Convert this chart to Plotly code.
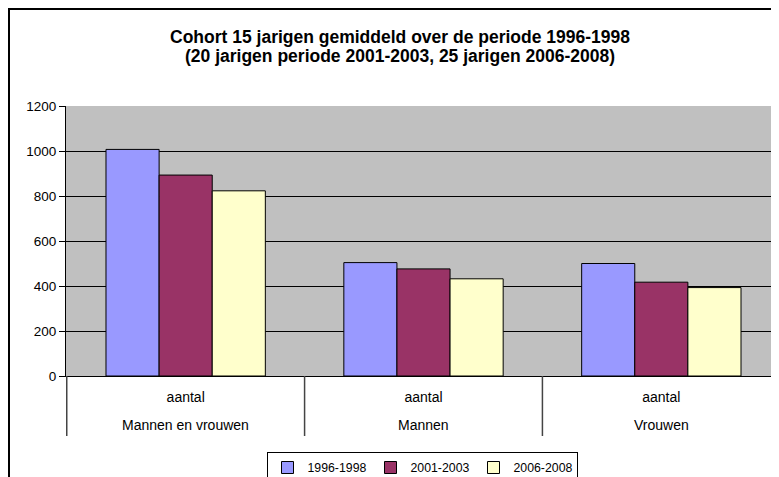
import plotly.graph_objects as go

groups = ["Mannen en vrouwen", "Mannen", "Vrouwen"]
subs = ["aantal", "aantal", "aantal"]
periods = ["1996-1998", "2001-2003", "2006-2008"]
v_1996 = [1007, 504, 500]
v_2001 = [893, 476, 417]
v_2006 = [823, 432, 393]
colors = ["#9999FF", "#993366", "#FFFFCC"]
title_lines = ["Cohort 15 jarigen gemiddeld over de periode 1996-1998",
               "(20 jarigen periode 2001-2003, 25 jarigen 2006-2008)"]

FONT = "Arial, Liberation Sans, sans-serif"
W, H = 779, 477
OFF = 8                          # page body margin shifts the figure
L, T, B, R = 66 - OFF, 106 - OFF, 376 - OFF, 781 - OFF   # plot area, figure px
PW, PH = R - L, B - T


def px_x(x):   # figure px -> paper x
    return (x - L) / PW


def px_y(y):   # figure px -> paper y
    return (B - y) / PH


fig = go.Figure()
for name, vals, col in zip(periods, [v_1996, v_2001, v_2006], colors):
    fig.add_trace(go.Bar(
        x=groups, y=vals, name=name,
        marker=dict(color=col, line=dict(color="black", width=1)),
    ))

# dividers between the category groups (Excel two-level axis)
dividers = [dict(type="line", xref="x", yref="paper", x0=i - 0.5, x1=i - 0.5,
                 y0=0, y1=px_y(436 - OFF), line=dict(color="#444444", width=1.5))
            for i in range(len(groups) + 1)]

group_labels = [dict(text=g, xref="x", yref="paper", x=g, y=px_y(425 - OFF),
                     showarrow=False, yanchor="middle", font=dict(size=14))
                for g in groups]

title_ann = [dict(text=f"<b>{t}</b>", xref="paper", yref="paper",
                  x=px_x(400 - OFF), y=px_y(yc - OFF), xanchor="center",
                  yanchor="middle", showarrow=False, font=dict(size=17.5))
             for t, yc in zip(title_lines, [36.5, 56.5])]

fig.update_layout(
    width=W, height=H,
    margin=dict(l=L, r=W - R, t=T, b=H - B, autoexpand=False),
    paper_bgcolor="white", plot_bgcolor="#C0C0C0",
    barmode="group", bargap=0.33, bargroupgap=0,
    font=dict(family=FONT, size=14, color="black"),
    showlegend=True,
    legend=dict(orientation="h", x=px_x(422 - OFF), xanchor="center",
                y=px_y(452 - OFF), yanchor="top",
                bordercolor="black", borderwidth=1, bgcolor="white",
                font=dict(size=12.3), itemwidth=30, entrywidth=58),
    annotations=title_ann + group_labels,
    shapes=dividers + [dict(type="rect", xref="paper", yref="paper",
                            x0=px_x(1), x1=1.1, y0=-0.6, y1=px_y(1),
                            line=dict(color="black", width=2),
                            fillcolor="rgba(0,0,0,0)", layer="below")],
)
fig.update_yaxes(range=[0, 1200], dtick=200, showgrid=True, gridcolor="black",
                 gridwidth=1, ticks="outside", ticklen=6, tickcolor="black",
                 showline=True, linecolor="black", zeroline=False,
                 tickfont=dict(size=13.5), automargin=False)
fig.update_xaxes(type="category", showline=True, linecolor="black", ticks="",
                 tickvals=groups, ticktext=subs, tickfont=dict(size=14),
                 ticklabelstandoff=8, automargin=False)

fig.write_html("out.html")
